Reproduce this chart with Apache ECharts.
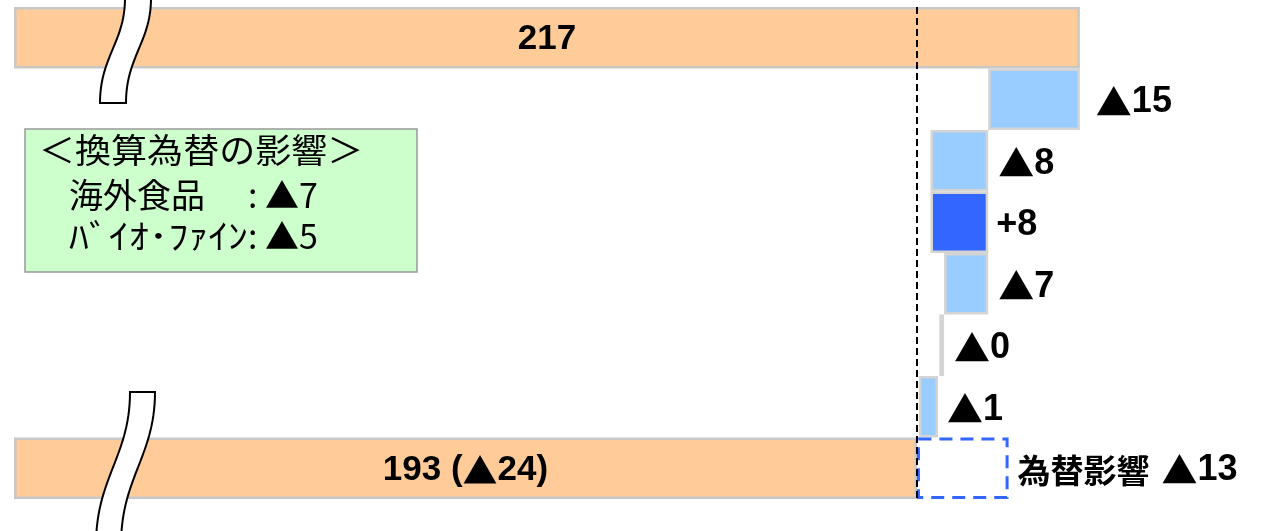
<!DOCTYPE html>
<html>
<head>
<meta charset="utf-8">
<script src="https://cdn.jsdelivr.net/npm/echarts@6/dist/echarts.min.js"></script>
<style>
  html, body { margin: 0; padding: 0; background: #ffffff; }
  #chart { width: 1273px; height: 531px; }
</style>
</head>
<body>
<div id="chart"></div>
<script>
// ---- data ----
const categories = ['前期', '要因1', '要因2', '要因3', '要因4', '要因5', '要因6', '当期'];
const totalValues = [217, 193];               // first and last rows
const totalLabels = ['217', '193 (▲24)'];
const stepLow  = [203.5, 195.0, 195.0, 197.0, 196.3, 193.3];   // left end of each step bar
const stepHigh = [217.0, 203.5, 203.5, 203.5, 197.0, 196.1];   // right end of each step bar
const stepLabels = ['▲15', '▲8', '+8', '▲7', '▲0', '▲1'];
const stepIsUp = [false, false, true, false, false, false];
const fxEffect = 13.5;                         // 為替影響 box extent
const fxName = '為替影響';
const fxLabel = '▲13';
const fxNoteTitle = '＜換算為替の影響＞';
const fxNoteRows = [['海外食品', ':▲7'], ['ﾊﾞｲｵ･ﾌｧｲﾝ', ':▲5']];
const axisMin = 60, axisMax = 240;

// ---- build series data ----
const n = categories.length;
const baseData = [], barData = [], fxData = [];
const latin = '"Liberation Sans", Arial, sans-serif';
const cjk = '"Noto Sans CJK JP", sans-serif';
const stepDist = [16, 10, 8, 10, 10, 9];

// wrap ▲ in its own rich style so it is drawn large, like the reference
function toRich(s) {
  return s.split('▲').map(function (part, i) {
    return (i > 0 ? '{t|▲}' : '') + (part ? '{n|' + part + '}' : '');
  }).join('');
}
function richStyles(size) {
  return {
    n: { fontFamily: latin, fontWeight: 'bold', fontSize: size, color: '#000' },
    t: { fontFamily: cjk, fontWeight: 'bold', fontSize: size, color: '#000' },
    a: { fontFamily: cjk, fontWeight: 'bold', fontSize: 33, color: '#000' },
    g: { width: 12, fontSize: size }
  };
}

for (let i = 0; i < n; i++) {
  if (i === 0 || i === n - 1) {
    const t = i === 0 ? 0 : 1;
    baseData.push(axisMin);
    barData.push({
      value: totalValues[t] - axisMin,
      itemStyle: { color: '#FFCC99', borderColor: '#c8c8c8' },
      label: { show: true, position: 'inside', offset: [0, 2], formatter: toRich(totalLabels[t]), rich: richStyles(35) }
    });
    fxData.push(i === n - 1 ? fxEffect : '-');
  } else {
    const k = i - 1;
    baseData.push(stepLow[k]);
    barData.push({
      value: +(stepHigh[k] - stepLow[k]).toFixed(2),
      itemStyle: { color: stepIsUp[k] ? '#3366FF' : '#99CCFF', borderColor: '#d4d4d4' },
      label: { show: true, position: 'right', distance: stepDist[k], offset: [0, 3], formatter: toRich(stepLabels[k]), rich: richStyles(36) }
    });
    fxData.push('-');
  }
}

const chart = echarts.init(document.getElementById('chart'), null, { renderer: 'canvas' });

// break-mark outline (S-shaped band) sampled from two cubic curves
function cubic(p0, p1, p2, p3, t) {
  const u = 1 - t;
  return u * u * u * p0 + 3 * u * u * t * p1 + 3 * u * t * t * p2 + t * t * t * p3;
}
function breakPoints(xTop, yTop, xBot, yBot, w) {
  const h = yBot - yTop;
  const c1 = yTop + h * 0.42, c2 = yTop + h * 0.56;
  const left = [], right = [];
  for (let s = 0; s <= 30; s++) {
    const t = s / 30;
    left.push([cubic(xTop, xTop, xBot, xBot, t), cubic(yTop, c1, c2, yBot, t)]);
    right.push([cubic(xTop + w, xTop + w, xBot + w, xBot + w, t), cubic(yTop, c1, c2, yBot, t)]);
  }
  return left.concat(right.reverse());
}

function noteText(str, x, y, sx) {
  return { type: 'text', z: 101, x: x, y: y, scaleX: sx || 1,
    style: { text: str, font: '34px ' + cjk, fill: '#000', verticalAlign: 'middle' } };
}

const option = {
  animation: false,
  backgroundColor: '#ffffff',
  grid: { left: 14, right: 37, top: 7, bottom: 32, containLabel: false },
  xAxis: {
    type: 'value', min: axisMin, max: axisMax,
    show: false, splitLine: { show: false }
  },
  yAxis: {
    type: 'category', data: categories, inverse: true,
    show: false
  },
  series: [
    {
      name: 'base', type: 'bar', stack: 'w', data: baseData,
      barCategoryGap: 0, barWidth: '100%',
      itemStyle: { color: 'rgba(0,0,0,0)', borderWidth: 0 },
      emphasis: { disabled: true }, silent: true
    },
    {
      name: 'value', type: 'bar', stack: 'w', data: barData,
      barWidth: '100%',
      itemStyle: { borderWidth: 2.5 },
      z: 3,
      markLine: {
        silent: true, symbol: 'none', animation: false,
        label: { show: false },
        lineStyle: { color: '#000', type: [7, 4], width: 2 },
        data: [{ xAxis: totalValues[1] }]
      }
    },
    {
      name: fxName, type: 'bar', stack: 'w', data: fxData,
      barWidth: '100%',
      itemStyle: { color: 'rgba(255,255,255,0)', borderColor: '#3366FF', borderWidth: 3, borderType: [13, 8] },
      label: {
        show: true, position: 'right', distance: 9, offset: [0, 2],
        formatter: '{a|' + fxName + '}{g|}' + toRich(fxLabel),
        rich: richStyles(36)
      },
      z: 4
    }
  ],
  graphic: [
    { type: 'polygon', z: 100, shape: { points: breakPoints(125, -2, 100, 103, 26) },
      style: { fill: '#ffffff', stroke: '#000', lineWidth: 2 } },
    { type: 'polygon', z: 100, shape: { points: breakPoints(130, 392, 96, 545, 25) },
      style: { fill: '#ffffff', stroke: '#000', lineWidth: 2 } },
    { type: 'rect', z: 100, shape: { x: 25, y: 129, width: 392, height: 143 },
      style: { fill: '#CCFFCC', stroke: '#999999', lineWidth: 1.5 } },
    noteText(fxNoteTitle, 39, 150, 1.06),
    noteText(fxNoteRows[0][0], 69, 195),
    noteText(fxNoteRows[0][1].charAt(0), 248, 195),
    noteText(fxNoteRows[0][1].slice(1), 265, 195),
    noteText(fxNoteRows[1][0], 69, 236, 1.17),
    noteText(fxNoteRows[1][1].charAt(0), 248, 236),
    noteText(fxNoteRows[1][1].slice(1), 265, 236)
  ]
};
chart.setOption(option);
</script>
</body>
</html>
